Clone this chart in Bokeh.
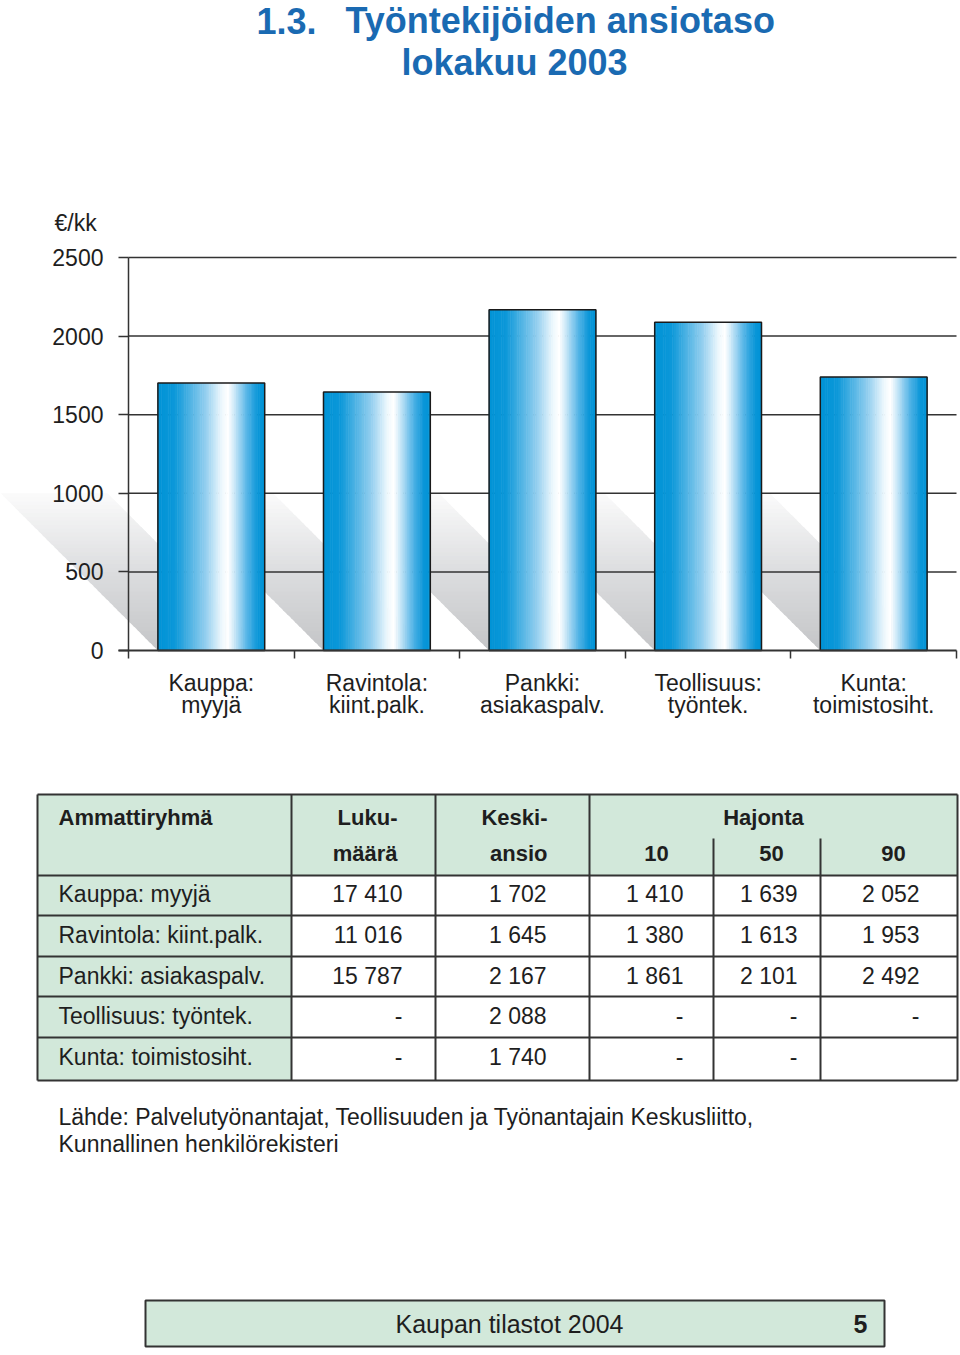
from bokeh.plotting import figure
from bokeh.layouts import column
from bokeh.models import Range1d, LinearAxis, FixedTicker
from bokeh.core.properties import value
from bokeh.embed import file_html
from bokeh.resources import INLINE

# Aineisto
ryhmat = ["Kauppa: myyjä", "Ravintola: kiint.palk.", "Pankki: asiakaspalv.",
          "Teollisuus: työntek.", "Kunta: toimistosiht."]
akseli_1 = ["Kauppa:", "Ravintola:", "Pankki:", "Teollisuus:", "Kunta:"]
akseli_2 = ["myyjä", "kiint.palk.", "asiakaspalv.", "työntek.", "toimistosiht."]
lukumaara = [17410, 11016, 15787, None, None]
keskiansio = [1702, 1645, 2167, 2088, 1740]
hajonta_10 = [1410, 1380, 1861, None, None]
hajonta_50 = [1639, 1613, 2101, None, None]
hajonta_90 = [2052, 1953, 2492, None, ""]
y_ticks = [0, 500, 1000, 1500, 2000, 2500]

FONT = "Liberation Sans"
INK = "#1e1e1e"
LINE = "#333333"
BLUE = "#1a6ab2"
GREEN = "#d2e8da"

BAR_STOPS = [(0.0, "#0093d6"), (0.16, "#0c98d9"), (0.45, "#94cfef"), (0.6, "#eef8fd"),
             (0.66, "#ffffff"), (0.71, "#d4ecf9"), (0.84, "#52b3e6"), (0.94, "#0a96d8"),
             (1.0, "#0093d6")]
SHADOW_STOPS = [(0.0, "#c4c5c7"), (0.5, "#dcdddf"), (1.0, "#fbfbfb")]


def mix(stops, t):
    for (t0, c0), (t1, c1) in zip(stops, stops[1:]):
        if t <= t1:
            f = (t - t0) / (t1 - t0) if t1 > t0 else 0
            a = [int(c0[i:i + 2], 16) for i in (1, 3, 5)]
            b = [int(c1[i:i + 2], 16) for i in (1, 3, 5)]
            return "#%02x%02x%02x" % tuple(round(x + (y - x) * f) for x, y in zip(a, b))
    return stops[-1][1]


def fmt(v):
    if v is None:
        return "-"
    if v == "":
        return ""
    return f"{v:,}".replace(",", " ")


def page_fig(top, bottom):
    # kuva jonka koordinaatit ovat sivun pikseleitä
    f = figure(width=960, height=bottom - top, x_range=Range1d(0, 960),
               y_range=Range1d(bottom, top), x_axis_location=None, y_axis_location=None,
               toolbar_location=None, output_backend="svg", min_border=0)
    f.outline_line_color = None
    for g in f.grid:
        g.visible = False
    return f


def put(f, xs, ys, texts, size, align="left", bold=False, color=INK):
    f.text(x=xs, y=ys, text=texts, text_font=value(FONT), text_font_size=value(size),
           text_font_style="bold" if bold else "normal", text_align=align,
           text_baseline="middle", text_color=color)


# Otsikko
t = page_fig(0, 235)
put(t, [256], [20], ["1.3."], "36px", bold=True, color=BLUE)
put(t, [345], [20], ["Työntekijöiden ansiotaso"], "36px", bold=True, color=BLUE)
put(t, [514], [62], ["lokakuu 2003"], "36px", align="center", bold=True, color=BLUE)
put(t, [54], [222], ["€/kk"], "23px")

# Pylväskaavio
TOP, HEIGHT = 235, 525
CAT_W = 165.6          # px / luokka
AX_X = 128             # y-akselin paikka
ZERO_Y = 650           # nollatason paikka
PX_Y = 393 / 2500      # px / euro
x_start = -0.5 - AX_X / CAT_W
x_end = -0.5 + (960 - AX_X) / CAT_W
y_start = -(TOP + HEIGHT - ZERO_Y) / PX_Y
y_end = (ZERO_Y - TOP) / PX_Y
shift = PX_Y / CAT_W   # 45 asteen varjo
bw = 0.645

p = figure(width=960, height=HEIGHT, x_range=Range1d(x_start, x_end),
           y_range=Range1d(y_start, y_end), x_axis_location=None, y_axis_location=None,
           toolbar_location=None, output_backend="svg", min_border=0)
p.outline_line_color = None
for g in p.grid:
    g.visible = False

# varjot
n = 40
shadow_h = 1000
xs, ys, cs = [], [], []
for i, v in enumerate(keskiansio):
    l, r = i - bw / 2, i + bw / 2
    for j in range(n):
        ya = shadow_h * j / n
        yb = min(shadow_h, shadow_h * (j + 1.4) / n)
        xs.append([l - shift * ya, r - shift * ya, r - shift * yb, l - shift * yb])
        ys.append([ya, ya, yb, yb])
        cs.append(mix(SHADOW_STOPS, (j + 0.5) / n))
p.patches(xs=xs, ys=ys, fill_color=cs, line_color=None)

# apuviivat
grid_y = y_ticks[1:]
p.segment(x0=[-0.5] * len(grid_y), y0=grid_y, x1=[len(keskiansio) - 0.5] * len(grid_y),
          y1=grid_y, line_color=LINE, line_width=1.5)

# pylväät liukuvärillä
m = 60
sx, sw, st, sc = [], [], [], []
for i, v in enumerate(keskiansio):
    for k in range(m):
        f = (k + 0.5) / m
        sx.append(i - bw / 2 + f * bw)
        sw.append(bw / m * 1.3)
        st.append(v)
        sc.append(mix(BAR_STOPS, f))
p.vbar(x=sx, width=sw, top=st, bottom=0, fill_color=sc, line_color=None)
p.vbar(x=list(range(len(keskiansio))), width=bw, top=keskiansio, bottom=0,
       fill_color=None, line_color="#1a1a1a", line_width=1.5)

yax = LinearAxis(ticker=FixedTicker(ticks=y_ticks), fixed_location=-0.5, bounds=(0, 2500))
yax.major_tick_out = 10
yax.major_tick_in = 0
yax.axis_line_color = LINE
yax.axis_line_width = 1.5
yax.major_tick_line_color = LINE
yax.major_tick_line_width = 1.5
yax.major_label_text_font = FONT
yax.major_label_text_font_size = "23px"
yax.major_label_text_color = INK
yax.major_label_standoff = 15
p.add_layout(yax, "left")

cats = list(range(len(keskiansio)))
edges = [i - 0.5 for i in range(len(keskiansio) + 1)]
for rivi, standoff in ((akseli_1, 11), (akseli_2, 41)):
    ax = LinearAxis(ticker=FixedTicker(ticks=cats, minor_ticks=edges), fixed_location=0,
                    bounds=(-0.5 - 10 / CAT_W, len(keskiansio) - 0.5),
                    major_label_overrides={i: s for i, s in enumerate(rivi)})
    ax.major_tick_out = 0
    ax.major_tick_in = 0
    ax.major_tick_line_color = None
    ax.minor_tick_in = 0
    ax.major_label_text_font = FONT
    ax.major_label_text_font_size = "23px"
    ax.major_label_text_color = INK
    ax.major_label_standoff = standoff
    if rivi is akseli_1:
        ax.minor_tick_out = 8
        ax.minor_tick_line_color = LINE
        ax.minor_tick_line_width = 1.5
        ax.axis_line_color = LINE
        ax.axis_line_width = 2
    else:
        ax.minor_tick_out = 0
        ax.minor_tick_line_color = None
        ax.axis_line_color = None
    p.add_layout(ax, "below")

# Taulukko, lähde ja alatunniste
b = page_fig(760, 1355)
COL_X = [37, 291, 435, 589, 713, 820, 957]
ROW_Y = [794, 875, 915, 956, 996, 1037, 1080]
b.quad(left=[COL_X[0]], right=[COL_X[-1]], top=[ROW_Y[0]], bottom=[ROW_Y[1]],
       fill_color=GREEN, line_color=None)
b.quad(left=[COL_X[0]], right=[COL_X[1]], top=[ROW_Y[1]], bottom=[ROW_Y[-1]],
       fill_color=GREEN, line_color=None)
b.segment(x0=[COL_X[0]] * len(ROW_Y), y0=ROW_Y, x1=[COL_X[-1]] * len(ROW_Y), y1=ROW_Y,
          line_color=LINE, line_width=2)
full = [COL_X[0], COL_X[1], COL_X[2], COL_X[3], COL_X[6]]
b.segment(x0=full, y0=[ROW_Y[0]] * len(full), x1=full, y1=[ROW_Y[-1]] * len(full),
          line_color=LINE, line_width=2)
b.segment(x0=[COL_X[4], COL_X[5]], y0=[838, 838], x1=[COL_X[4], COL_X[5]], y1=[ROW_Y[-1]] * 2,
          line_color=LINE, line_width=2)

put(b, [58], [817], ["Ammattiryhmä"], "22px", bold=True)
put(b, [397, 547], [817, 817], ["Luku-", "Keski-"], "22px", align="right", bold=True)
put(b, [763], [817], ["Hajonta"], "22px", align="center", bold=True)
put(b, [397, 547], [853, 853], ["määrä", "ansio"], "22px", align="right", bold=True)
put(b, [656, 771, 893], [853] * 3, ["10", "50", "90"], "22px", align="center", bold=True)

row_c = [893, 934, 975, 1015, 1056]
put(b, [58] * len(ryhmat), row_c, ryhmat, "23px")
NUM_R = [402, 546, 683, 797, 919]
for xr, col in zip(NUM_R, [lukumaara, keskiansio, hajonta_10, hajonta_50, hajonta_90]):
    put(b, [xr] * len(col), row_c, [fmt(v) for v in col], "23px", align="right")

put(b, [58, 58], [1116, 1143],
    ["Lähde: Palvelutyönantajat, Teollisuuden ja Työnantajain Keskusliitto,",
     "Kunnallinen henkilörekisteri"], "23px")

b.quad(left=[145], right=[884], top=[1300], bottom=[1346], fill_color=GREEN,
       line_color=LINE, line_width=2)
put(b, [509], [1323], ["Kaupan tilastot 2004"], "25px", align="center")
put(b, [867], [1323], ["5"], "25px", align="right", bold=True)

layout = column(t, p, b)
open("out.html", "w").write(file_html(layout, INLINE))
